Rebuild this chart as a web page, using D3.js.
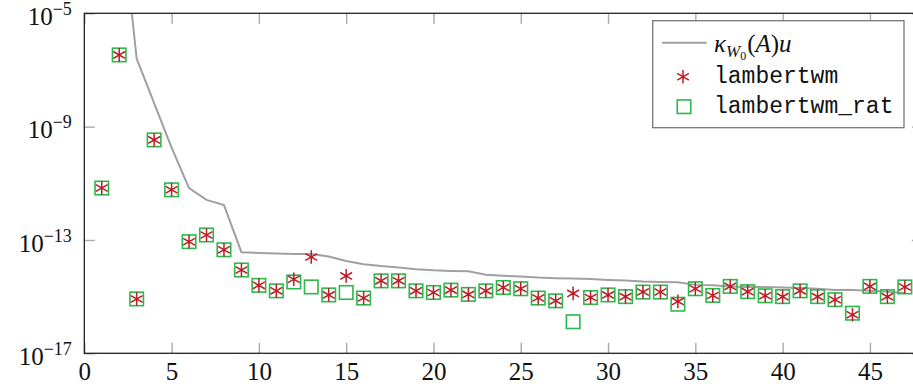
<!DOCTYPE html>
<html>
<head>
<meta charset="utf-8">
<script src="https://cdn.jsdelivr.net/npm/d3@7"></script>
<style>
	body { margin: 0; background: #fff; }
</style>
</head>
<body>
<div class="chart"></div>
<script>
// problem index
const nValues = d3.range(1, 48);

// condition number times unit roundoff (grey line)
const kappaU = [2e-1, 1.4e-1, 2.5e-7, 6.8e-9, 1.8e-10, 6.8e-12, 2.6e-12, 1.7e-12, 3.7e-14, 3.5e-14,
	3.3e-14, 3.2e-14, 3.2e-14, 2.6e-14, 1.8e-14, 1.4e-14, 1.2e-14, 1.07e-14, 9.3e-15, 8.5e-15,
	8.1e-15, 7.8e-15, 5.9e-15, 5.5e-15, 5.1e-15, 4.7e-15, 4.5e-15, 4.4e-15, 4.2e-15, 3.9e-15,
	3.7e-15, 3.4e-15, 3.3e-15, 3.2e-15, 2.6e-15, 2.5e-15, 2.3e-15, 2.2e-15, 2.2e-15, 2.1e-15,
	2.0e-15, 1.9e-15, 1.7e-15, 1.7e-15, 1.6e-15, 1.5e-15, 1.35e-15];

// relative errors, lambertwm (red asterisks)
const errLambertwm = [6.8e-12, 3.4e-7, 8.3e-16, 3.4e-10, 5.9e-12, 8.7e-14, 1.5e-13, 4.5e-14, 8.7e-15, 2.5e-15,
	1.6e-15, 4.1e-15, 2.5e-14, 1.15e-15, 5.4e-15, 8.9e-16, 3.6e-15, 3.6e-15, 1.6e-15, 1.4e-15,
	1.7e-15, 1.2e-15, 1.6e-15, 2.1e-15, 1.9e-15, 8.9e-16, 7.1e-16, 1.3e-15, 9.3e-16, 1.15e-15,
	1.0e-15, 1.45e-15, 1.45e-15, 6.8e-16, 1.9e-15, 1.1e-15, 2.3e-15, 1.5e-15, 1.07e-15, 1.0e-15,
	1.6e-15, 1.0e-15, 7.8e-16, 2.3e-16, 2.3e-15, 1.0e-15, 2.2e-15];

// relative errors, lambertwm_rat (green squares)
const errLambertwmRat = [6.8e-12, 3.4e-7, 8.3e-16, 3.4e-10, 5.9e-12, 8.7e-14, 1.5e-13, 4.5e-14, 8.7e-15, 2.5e-15,
	1.6e-15, 3.3e-15, 2.2e-15, 1.15e-15, 1.4e-15, 8.9e-16, 3.6e-15, 3.6e-15, 1.6e-15, 1.4e-15,
	1.7e-15, 1.2e-15, 1.6e-15, 2.1e-15, 1.9e-15, 8.9e-16, 7.1e-16, 1.3e-16, 9.3e-16, 1.15e-15,
	1.0e-15, 1.45e-15, 1.45e-15, 5.4e-16, 1.9e-15, 1.1e-15, 2.3e-15, 1.5e-15, 1.07e-15, 1.0e-15,
	1.6e-15, 1.0e-15, 7.8e-16, 2.6e-16, 2.3e-15, 1.0e-15, 2.2e-15];

// axis ticks
const xTicks = [0, 5, 10, 15, 20, 25, 30, 35, 40, 45];
const yTickExps = [-17, -13, -9, -5];

//colors and fonts
const lineColor = '#a0a0a0';
const starColor = '#bb1d22';
const squareColor = '#2cb84c';
const serifFont = '"Liberation Serif", "DejaVu Serif", serif';
const monoFont = '"Liberation Mono", "DejaVu Sans Mono", monospace';

const W = 913;
const H = 387;
const margin = {l: 84.3, t: 13.3, b: 33.7};
const w = 838; //plot extends a bit past the right edge of the window
const h = H - margin.t - margin.b;
const tickLen = 10.5;

const svg = d3.select('.chart')
	.append('svg')
	.attr('width', W)
	.attr('height', H);

const scaleX = d3.scaleLinear()
	.domain([0, 48])
	.range([margin.l, margin.l + w]);
const scaleY = d3.scaleLog()
	.domain([1e-17, 1e-5])
	.range([margin.t + h, margin.t]);

svg.append('clipPath')
	.attr('id', 'plot-clip')
	.append('rect')
	.attr('x', margin.l)
	.attr('y', margin.t)
	.attr('width', w)
	.attr('height', h);

//ticks, drawn inward on all four sides
const axisBottom = d3.axisBottom(scaleX)
	.tickValues(xTicks)
	.tickSize(-tickLen)
	.tickFormat(d => d);
const axisTop = d3.axisTop(scaleX)
	.tickValues(xTicks)
	.tickSize(-tickLen)
	.tickFormat('');
const axisLeft = d3.axisLeft(scaleY)
	.tickValues(yTickExps.map(e => Math.pow(10, e)))
	.tickSize(-tickLen)
	.tickFormat('');
const axisRight = d3.axisRight(scaleY)
	.tickValues(yTickExps.map(e => Math.pow(10, e)))
	.tickSize(-tickLen)
	.tickFormat('');

const gBottom = svg.append('g')
	.attr('transform', `translate(0, ${margin.t + h})`)
	.call(axisBottom);
svg.append('g')
	.attr('transform', `translate(0, ${margin.t})`)
	.call(axisTop);
svg.append('g')
	.attr('transform', `translate(${margin.l}, 0)`)
	.call(axisLeft);
svg.append('g')
	.attr('transform', `translate(${margin.l + w}, 0)`)
	.call(axisRight);

svg.selectAll('.domain').remove();
svg.selectAll('.tick line')
	.attr('stroke', '#aaa')
	.attr('stroke-width', 1.4);

gBottom.selectAll('.tick text')
	.attr('y', 9)
	.attr('dy', '0.71em')
	.style('font-family', serifFont)
	.style('font-size', '25px')
	.attr('fill', '#111');

//y labels as 10^e
const yLabels = svg.append('g')
	.selectAll('text')
	.data(yTickExps)
	.enter()
	.append('text')
	.attr('x', margin.l - 12.5)
	.attr('y', d => scaleY(Math.pow(10, d)) + 11.7)
	.attr('text-anchor', 'end')
	.attr('fill', '#111')
	.style('font-family', serifFont)
	.style('font-size', '25px');
yLabels.append('tspan').text('10');
yLabels.append('tspan')
	.attr('dy', -10)
	.style('font-size', '18px')
	.text(d => '\u2212' + Math.abs(d));

//data
const plot = svg.append('g')
	.attr('clip-path', 'url(#plot-clip)');

const lineGen = d3.line()
	.x((d, i) => scaleX(nValues[i]))
	.y(d => scaleY(d));

plot.append('path')
	.datum(kappaU)
	.attr('d', lineGen)
	.attr('fill', 'none')
	.attr('stroke', lineColor)
	.attr('stroke-width', 2);

const sq = 13.5;
plot.selectAll('.sq')
	.data(errLambertwmRat)
	.enter()
	.append('rect')
	.attr('class', 'sq')
	.attr('x', (d, i) => scaleX(nValues[i]) - sq / 2)
	.attr('y', d => scaleY(d) - sq / 2)
	.attr('width', sq)
	.attr('height', sq)
	.attr('fill', 'none')
	.attr('stroke', squareColor)
	.attr('stroke-width', 1.6);

//asterisk: vertical stroke + two at +/-30 degrees
const r = 6.8;
const c30 = r * Math.cos(Math.PI / 6);
const s30 = r * Math.sin(Math.PI / 6);
const starPath = `M0,${-r}L0,${r}M${-c30},${-s30}L${c30},${s30}M${-c30},${s30}L${c30},${-s30}`;

plot.selectAll('.star')
	.data(errLambertwm)
	.enter()
	.append('path')
	.attr('class', 'star')
	.attr('transform', (d, i) => `translate(${scaleX(nValues[i])}, ${scaleY(d)})`)
	.attr('d', starPath)
	.attr('fill', 'none')
	.attr('stroke', starColor)
	.attr('stroke-width', 1.5);

//frame
svg.append('rect')
	.attr('x', margin.l)
	.attr('y', margin.t)
	.attr('width', w)
	.attr('height', h)
	.attr('fill', 'none')
	.attr('stroke', '#222')
	.attr('stroke-width', 1.3);

//legend
const legend = svg.append('g')
	.attr('class', 'legend');
legend.append('rect')
	.attr('x', 652.7)
	.attr('y', 20.7)
	.attr('width', 251.3)
	.attr('height', 107)
	.attr('fill', '#fff')
	.attr('stroke', '#777')
	.attr('stroke-width', 1.3);
legend.append('line')
	.attr('x1', 662)
	.attr('x2', 706.7)
	.attr('y1', 42.7)
	.attr('y2', 42.7)
	.attr('stroke', lineColor)
	.attr('stroke-width', 2);
legend.append('path')
	.attr('transform', 'translate(683, 76.7)')
	.attr('d', starPath)
	.attr('fill', 'none')
	.attr('stroke', starColor)
	.attr('stroke-width', 1.5);
legend.append('rect')
	.attr('x', 684 - sq / 2)
	.attr('y', 106.7 - sq / 2)
	.attr('width', sq)
	.attr('height', sq)
	.attr('fill', 'none')
	.attr('stroke', squareColor)
	.attr('stroke-width', 1.6);

const kappaLabel = legend.append('text')
	.attr('x', 714)
	.attr('y', 52)
	.attr('fill', '#111')
	.style('font-family', serifFont)
	.style('font-size', '25px');
kappaLabel.append('tspan').style('font-style', 'italic').text('κ');
kappaLabel.append('tspan').attr('dy', 5).style('font-size', '17px').style('font-style', 'italic').text('W');
kappaLabel.append('tspan').attr('dy', 3).style('font-size', '12px').text('0');
kappaLabel.append('tspan').attr('dy', -8).attr('dx', 1).text('(');
kappaLabel.append('tspan').style('font-style', 'italic').text('A');
kappaLabel.append('tspan').text(')');
kappaLabel.append('tspan').style('font-style', 'italic').text('u');

legend.append('text')
	.attr('x', 714)
	.attr('y', 82.7)
	.attr('fill', '#111')
	.style('font-family', monoFont)
	.style('font-size', '23px')
	.text('lambertwm');
legend.append('text')
	.attr('x', 714)
	.attr('y', 112.7)
	.attr('fill', '#111')
	.style('font-family', monoFont)
	.style('font-size', '23px')
	.text('lambertwm_rat');
</script>
</body>
</html>
